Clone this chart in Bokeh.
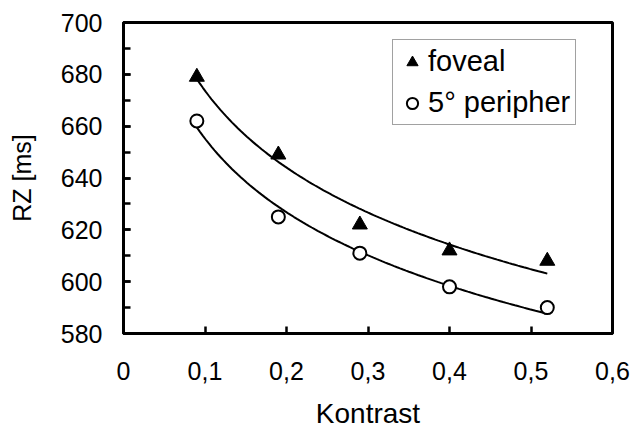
import numpy as np
from bokeh.plotting import figure
from bokeh.models import (Range1d, FixedTicker, SingleIntervalTicker, Legend, LegendItem)
from bokeh.embed import file_html
from bokeh.resources import INLINE

# ---- data ----
kontrast = [0.09, 0.19, 0.29, 0.40, 0.52]
foveal = [679, 649, 622, 612, 608]
peripher = [662, 625, 611, 598, 590]

x_ticks = [0, 0.1, 0.2, 0.3, 0.4, 0.5, 0.6]
x_tick_labels = ["0", "0,1", "0,2", "0,3", "0,4", "0,5", "0,6"]

series_names = ["foveal", "5° peripher"]

FONT = "Liberation Sans"

p = figure(width=634, height=432, output_backend="svg", toolbar_location=None,
           x_range=Range1d(0, 0.6), y_range=Range1d(580, 700),
           min_border_left=123, min_border_right=22, min_border_top=22,
           min_border_bottom=99)

p.grid.visible = False
p.outline_line_color = "black"
p.outline_line_width = 3
p.background_fill_color = "white"
p.border_fill_color = "white"

# logarithmic trend lines computed from the data
def log_fit(xs, ys):
    a, b = np.polyfit(np.log(xs), ys, 1)
    xx = np.linspace(min(xs), max(xs), 120)
    return xx, a * np.log(xx) + b

xf, yf = log_fit(kontrast, foveal)
xp, yp = log_fit(kontrast, peripher)
p.line(xf, yf, line_color="black", line_width=2)
p.line(xp, yp, line_color="black", line_width=2)

r1 = p.scatter(kontrast, foveal, marker="triangle", size=15,
               fill_color="black", line_color="black")
r2 = p.scatter(kontrast, peripher, marker="circle", size=13,
               fill_color="white", line_color="black", line_width=2)

legend = Legend(items=[LegendItem(label=series_names[0], renderers=[r1]),
                       LegendItem(label=series_names[1], renderers=[r2])],
                location=(269, 208))
legend.label_text_font = FONT
legend.label_text_font_size = "29px"
legend.label_text_color = "black"
legend.border_line_color = "#444444"
legend.border_line_width = 1
legend.background_fill_alpha = 1
legend.padding = 5
legend.spacing = 8
legend.glyph_width = 28
legend.glyph_height = 28
legend.label_standoff = 2
legend.margin = 0
p.add_layout(legend)

# axes
for ax in (p.xaxis[0], p.yaxis[0]):
    ax.axis_line_width = 3
    ax.axis_line_color = "black"
    ax.major_tick_line_width = 2.5
    ax.major_tick_line_color = "black"
    ax.major_tick_in = 7
    ax.major_tick_out = 0
    ax.major_label_text_font = FONT
    ax.major_label_text_font_size = "25px"
    ax.major_label_text_color = "black"
    ax.axis_label_text_font = FONT
    ax.axis_label_text_font_style = "normal"
    ax.axis_label_text_color = "black"

p.xaxis.ticker = FixedTicker(ticks=x_ticks)
p.xaxis.major_label_overrides = dict(zip(x_ticks, x_tick_labels))
p.xaxis.minor_tick_line_color = None
p.xaxis.axis_label = "Kontrast"
p.xaxis.axis_label_text_font_size = "28px"
p.xaxis.major_label_standoff = 28
p.xaxis.axis_label_standoff = 15

p.yaxis.ticker = SingleIntervalTicker(interval=20, num_minor_ticks=2)
p.yaxis.minor_tick_in = 7
p.yaxis.minor_tick_out = 0
p.yaxis.minor_tick_line_width = 2.5
p.yaxis.minor_tick_line_color = "black"
p.yaxis.axis_label = "RZ [ms]"
p.yaxis.axis_label_text_font_size = "25px"
p.yaxis.major_label_standoff = 21
p.yaxis.axis_label_standoff = 22

open("out.html", "w").write(file_html(p, INLINE))
